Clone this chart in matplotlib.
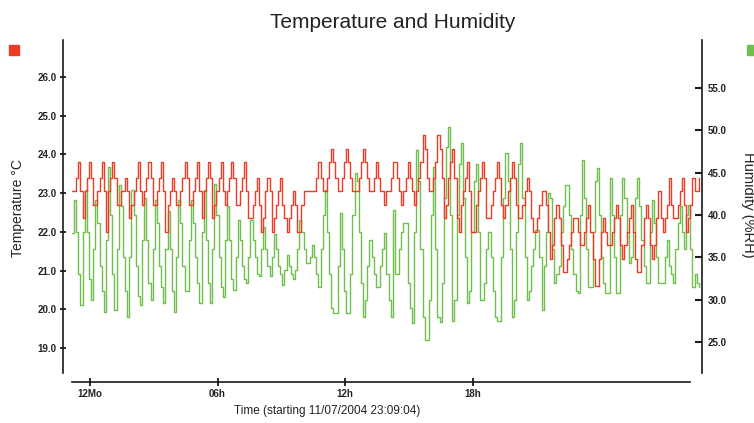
import matplotlib
matplotlib.use('Agg')
import matplotlib.pyplot as plt
import numpy as np
from matplotlib.patches import Rectangle

plt.rcParams['font.family'] = ['Liberation Sans', 'DejaVu Sans']

# logger samples, one every 6 minutes from 11/07/2004 23:09:04
SAMPLE_HOURS = 0.1

temperature = [
    23.05, 23.05, 23.4, 23.8,
    23.05, 22.35, 23.05, 23.4, 23.8,
    23.4, 22.7, 22.7, 23.05, 23.4, 23.8,
    23.05, 22.0, 23.05, 23.4, 23.8,
    23.4, 22.7, 22.7, 23.05, 23.05, 23.4,
    23.05, 22.35, 22.7, 23.05, 23.4, 23.8,
    23.05, 22.7, 23.05, 23.4, 23.8,
    23.4, 22.7, 22.7, 23.05, 23.4, 23.8,
    23.05, 22.0, 22.7, 23.05, 23.4,
    23.05, 22.7, 22.7, 23.05, 23.4, 23.8,
    23.4, 22.7, 22.7, 23.05, 23.4, 23.8,
    23.05, 22.35, 23.05, 23.4, 23.8,
    23.4, 22.35, 22.7, 23.05, 23.4, 23.8,
    23.05, 22.7, 23.05, 23.4, 23.8,
    23.4, 22.7, 22.7, 23.05, 23.4, 23.8,
    23.05, 22.35, 22.35, 22.7, 23.05, 23.4,
    22.7, 22.0, 22.35, 23.05, 23.4,
    23.05, 22.0, 22.35, 22.7, 23.05, 23.4,
    22.7, 22.35, 22.0, 22.35, 22.7, 23.05,
    22.7, 22.0, 22.0, 22.7, 23.05, 23.05, 23.05, 23.05, 23.05, 23.05, 23.4, 23.8,
    23.4, 23.05, 23.05, 23.4, 23.8, 24.15,
    23.8, 23.4, 23.05, 23.05, 23.4, 23.8, 24.15,
    23.8, 23.4, 23.05, 23.05, 23.05, 23.4, 23.8, 24.15,
    23.8, 23.4, 23.05, 23.05, 23.4, 23.8,
    23.4, 23.05, 23.05, 22.7, 23.05, 23.05, 23.4, 23.8, 23.8,
    23.4, 23.05, 22.7, 23.05, 23.4, 23.8,
    23.4, 23.05, 22.7, 23.05, 23.4, 23.8, 24.5,
    24.15, 23.4, 23.05, 23.05, 23.4, 23.8, 24.5,
    24.15, 23.4, 22.35, 22.7, 23.4, 23.8, 24.15,
    23.4, 22.35, 22.0, 22.7, 23.05, 23.4, 23.8,
    23.05, 22.0, 22.0, 22.7, 23.05, 23.4, 23.8,
    23.4, 22.35, 22.35, 22.7, 23.05, 23.4, 23.8,
    23.4, 22.7, 22.35, 22.7, 23.05, 23.4, 23.8,
    23.4, 22.7, 22.35, 22.35, 22.7, 23.05, 23.4,
    23.05, 22.35, 22.0, 22.0, 22.35, 22.7, 23.05, 23.05,
    22.7, 22.0, 21.3, 21.65, 22.35, 22.7,
    22.35, 21.65, 20.95, 20.95, 21.3, 21.65, 22.0, 22.35, 22.35,
    22.0, 21.65, 21.65, 22.0, 22.35, 22.7,
    22.0, 21.3, 20.6, 20.6, 21.3, 22.0, 22.35,
    22.0, 21.65, 21.65, 22.0, 22.35, 22.7,
    22.35, 21.65, 21.3, 21.65, 22.0, 22.35, 22.7,
    22.0, 21.3, 20.95, 20.95, 21.65, 22.35, 22.7,
    22.35, 21.65, 21.3, 21.65, 22.35, 23.05,
    22.35, 22.0, 22.35, 22.7, 23.4,
    22.7, 22.35, 22.35, 22.7, 23.05, 23.4,
    22.7, 22.0, 22.35, 22.7, 23.4,
    23.05, 23.05, 23.4,
]

humidity = [
    37.9, 41.8, 38.0, 33.0,
    29.4, 38.0, 43.0, 38.0, 32.5,
    30.0, 36.0, 41.8, 39.0, 34.0, 31.0,
    28.6, 37.0, 45.6, 40.0, 33.0,
    28.8, 36.0, 43.5, 41.0, 35.0, 31.0,
    28.0, 35.0, 43.0, 40.0, 34.0, 30.5,
    29.4, 37.0, 42.0, 37.0, 32.0,
    30.0, 36.0, 41.8, 39.0, 34.0, 31.5,
    29.6, 36.0, 40.5, 36.0, 31.0,
    28.6, 35.0, 41.8, 39.0, 34.0, 31.0,
    31.0, 37.0, 41.8, 39.0, 35.0, 32.0,
    29.6, 38.0, 43.0, 37.0, 32.0,
    29.6, 36.0, 43.7, 40.0, 35.0, 31.5,
    30.4, 37.0, 41.0, 37.0, 32.5,
    31.2, 35.0, 39.4, 37.0, 34.0, 32.5,
    32.0, 35.0, 39.4, 37.0, 35.0, 33.0,
    32.8, 36.0, 38.6, 36.0, 34.0,
    32.8, 35.0, 37.8, 36.0, 34.0, 33.0,
    31.8, 33.5, 35.3, 34.0, 33.0, 32.5,
    33.5, 36.0, 39.4, 38.0, 36.0, 34.3, 34.3, 35.0, 36.5, 35.0, 33.0, 31.5,
    36.0, 40.0, 43.0, 38.0, 33.0, 29.0,
    28.5, 28.5, 34.0, 40.2, 36.0, 31.0, 28.5,
    28.5, 33.0, 40.0, 45.0, 44.0, 38.0, 32.0, 28.0,
    30.0, 34.0, 37.0, 35.0, 33.0, 31.5,
    31.5, 34.0, 36.0, 37.9, 33.0, 30.0, 28.0, 40.6, 33.0,
    33.0, 36.0, 38.0, 39.0, 39.0, 32.0,
    29.0, 27.3, 38.0, 47.6, 44.0, 36.0, 28.0,
    25.3, 25.3, 30.0, 40.0, 45.6, 36.0, 28.0,
    27.4, 32.0, 42.0, 48.0, 50.4, 40.0, 27.5,
    30.0, 40.0, 46.0, 48.5, 42.0, 35.0, 29.6,
    31.0, 38.0, 44.0, 46.0, 38.0, 30.0, 30.0,
    32.0, 36.0, 38.0, 35.0, 31.0, 28.0, 27.5,
    27.5, 35.0, 42.0, 47.3, 44.0, 36.0, 28.0,
    30.0, 38.0, 46.0, 48.5, 42.0, 35.0, 30.0,
    31.0, 34.0, 36.0, 38.2, 38.2, 35.0, 28.8, 34.0,
    38.0, 42.6, 42.0, 36.0, 32.0, 33.0,
    34.0, 38.0, 41.0, 43.5, 43.5, 40.0, 36.0, 33.0, 31.0,
    30.8, 40.0, 46.5, 42.0, 36.0, 31.5,
    31.5, 38.0, 44.0, 45.5, 40.0, 35.0, 32.0,
    30.8, 30.8, 44.3, 40.0, 35.0, 30.8,
    30.8, 40.0, 44.3, 42.0, 38.0, 34.3, 35.0,
    38.0, 42.0, 44.3, 41.0, 37.0, 34.0, 32.0,
    32.0, 38.0, 41.8, 39.0, 35.0, 32.0,
    32.0, 32.0, 35.0, 37.0, 34.0,
    33.0, 32.0, 36.0, 39.0, 41.0, 38.0,
    36.0, 40.0, 41.2, 36.0, 31.5,
    33.0, 32.0, 31.5,
]

# hours after start for the x ticks (midnight, 06h, 12h, 18h)
tick_hours = [0.849, 6.849, 12.849, 18.849]
tick_labels = ['12Mo', '06h', '12h', '18h']
temp_ticks = [19, 20, 21, 22, 23, 24, 25, 26]
hum_ticks = [25, 30, 35, 40, 45, 50, 55]

RED = '#ee3b26'
GREEN = '#6fbf4c'
AXC = '#1a1a1a'
W, H = 754, 423

t = np.arange(len(temperature)) * SAMPLE_HOURS

fig = plt.figure(figsize=(W / 100, H / 100), dpi=100)
ax = fig.add_axes([72 / W, 1 - 373 / H, 630 / W, 333 / H])
ax2 = ax.twinx()

# spines first: moving a spine rebuilds its ticks
for s in ['top', 'right']:
    ax.spines[s].set_visible(False)
for s in ['top', 'left', 'bottom']:
    ax2.spines[s].set_visible(False)
ax.spines['left'].set_position(('outward', 6.5))
ax.spines['bottom'].set_position(('outward', 6.5))
for sp in [ax.spines['left'], ax.spines['bottom'], ax2.spines['right']]:
    sp.set_linewidth(1.2)
    sp.set_color(AXC)

ax2.plot(t, humidity, drawstyle='steps-post', color=GREEN, lw=1.0)
ax.plot(t, temperature, drawstyle='steps-post', color=RED, lw=1.0)
ax.set_zorder(ax2.get_zorder() + 1)
ax.patch.set_visible(False)

ax.set_xlim(0, 29.65)
ax.set_ylim(18.35, 26.96)
ax2.set_ylim(21.4, 60.6)
ax.spines['bottom'].set_bounds(0, 29.08)

ax.set_xticks(tick_hours)
ax.set_xticklabels(tick_labels)
ax.set_yticks(temp_ticks)
ax.set_yticklabels(['%.1f' % v for v in temp_ticks])
ax2.set_yticks(hum_ticks)
ax2.set_yticklabels(['%.1f' % v for v in hum_ticks])

ax.tick_params(axis='y', direction='inout', length=5, width=1.3, color=AXC, pad=2, labelsize=7)
ax.tick_params(axis='x', direction='inout', length=6, width=1.3, color=AXC, pad=2, labelsize=7)
ax2.tick_params(axis='y', direction='in', length=5, width=1.5, color=AXC, pad=4, labelsize=7)
for lab in ax.get_xticklabels() + ax.get_yticklabels() + ax2.get_yticklabels():
    lab.set_fontweight('bold')
    lab.set_color('#222222')

fig.text(393 / W, 1 - 22 / H, 'Temperature and Humidity', ha='center', va='center', fontsize=15, color='#222222')
fig.text(327 / W, 1 - 411 / H, 'Time (starting 11/07/2004 23:09:04)', ha='center', va='center', fontsize=8.5, color='#222222')
fig.text(18 / W, 1 - 208 / H, 'Temperature °C', rotation=90, ha='center', va='center', fontsize=10, color='#222222')
fig.text(748 / W, 1 - 205 / H, 'Humidity (%RH)', rotation=-90, ha='center', va='center', fontsize=10.5, color='#222222')

# series colour keys in the top corners
fig.patches.append(Rectangle((9 / W, 1 - 55 / H), 10 / W, 10 / H, transform=fig.transFigure, color=RED))
fig.patches.append(Rectangle((747 / W, 1 - 55 / H), 10 / W, 10 / H, transform=fig.transFigure, color=GREEN))

fig.savefig('out.png', dpi=100)
